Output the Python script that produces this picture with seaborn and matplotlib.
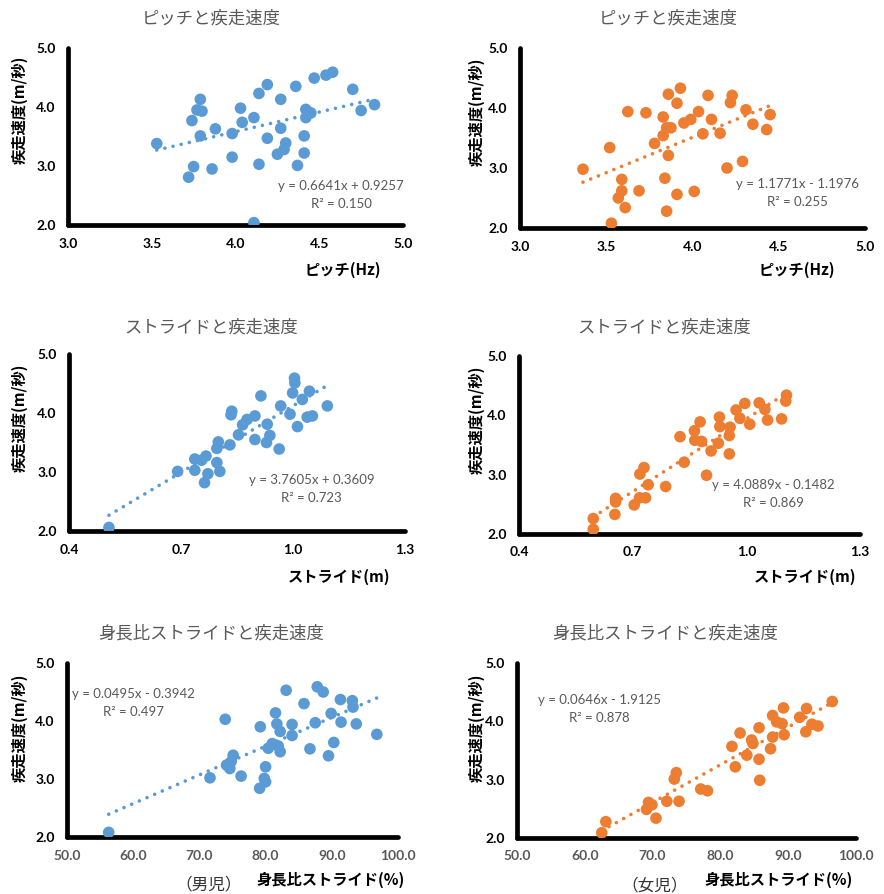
import numpy as np
import pandas as pd
import matplotlib
matplotlib.use("Agg")
import matplotlib.pyplot as plt
import seaborn as sns

sns.set_theme(style="white")
plt.rcParams['font.family'] = ['Lato', 'Noto Sans CJK JP', 'DejaVu Sans']

BLUE = '#5B9BD5'
ORANGE = '#ED7D31'
GRAY = '#595959'
CJK = ['Noto Sans CJK JP', 'DejaVu Sans']

# ---------------- data ----------------
# Boys: pitch (Hz) vs speed (m/s)
boy_pitch = [3.53, 3.72, 3.75, 3.86, 3.74, 3.79, 3.77, 3.80, 3.79, 3.88, 3.98, 3.98, 4.03,
             4.04, 4.11, 4.11, 4.14, 4.19, 4.14, 4.19, 4.27, 4.27, 4.30, 4.29, 4.25, 4.36,
             4.37, 4.41, 4.41, 4.42, 4.45, 4.42, 4.47, 4.54, 4.58, 4.70, 4.75, 4.83]
boy_pitch_speed = [3.38, 2.81, 2.99, 2.95, 3.77, 4.13, 3.95, 3.93, 3.51, 3.63, 3.55, 3.15, 3.98,
                   3.74, 3.82, 2.04, 4.23, 4.38, 3.03, 3.47, 4.13, 3.64, 3.39, 3.28, 3.20, 4.35,
                   3.01, 3.22, 3.51, 3.96, 3.90, 3.82, 4.49, 4.54, 4.59, 4.30, 3.94, 4.04]

# Girls: pitch (Hz) vs speed (m/s)
girl_pitch = [3.365, 3.52, 3.53, 3.59, 3.59, 3.57, 3.61, 3.625, 3.69, 3.73, 3.78, 3.83, 3.83,
              3.85, 3.875, 3.86, 3.86, 3.84, 3.85, 3.91, 3.93, 3.91, 3.95, 3.99, 4.01, 4.035,
              4.06, 4.09, 4.11, 4.16, 4.20, 4.22, 4.23, 4.29, 4.31, 4.35, 4.43, 4.45]
girl_pitch_speed = [2.98, 3.34, 2.08, 2.81, 2.62, 2.50, 2.34, 3.94, 2.62, 3.92, 3.41, 3.85, 3.54,
                    3.67, 3.67, 4.23, 3.21, 2.83, 2.28, 4.08, 4.33, 2.56, 3.75, 3.81, 2.61, 3.94,
                    3.57, 4.21, 3.81, 3.58, 3.00, 4.09, 4.21, 3.11, 3.97, 3.73, 3.64, 3.89]

# Boys: stride (m) vs speed
boy_stride = [0.507, 0.691, 0.737, 0.737, 0.755, 0.767, 0.763, 0.772, 0.796, 0.804, 0.796, 0.80,
              0.831, 0.834, 0.836, 0.854, 0.865, 0.877, 0.898, 0.898, 0.914, 0.929, 0.931, 0.938,
              0.963, 0.967, 0.992, 1.004, 1.005, 0.999, 1.012, 1.025, 1.044, 1.038, 1.052, 1.092]
boy_stride_speed = [2.06, 3.01, 3.03, 3.22, 3.20, 3.27, 2.82, 2.97, 3.16, 3.01, 3.40, 3.51,
                    3.46, 3.97, 4.03, 3.63, 3.80, 3.89, 3.95, 3.55, 4.29, 3.50, 3.81, 3.62,
                    3.39, 4.12, 3.98, 4.59, 4.51, 4.34, 3.77, 4.23, 4.37, 3.93, 3.95, 4.12]

# Girls: stride (m) vs speed
girl_stride = [0.596, 0.596, 0.653, 0.655, 0.655, 0.704, 0.718, 0.734, 0.719, 0.730, 0.741, 0.787,
               0.836, 0.825, 0.863, 0.864, 0.878, 0.882, 0.895, 0.907, 0.926, 0.929, 0.930, 0.955,
               0.957, 0.955, 0.973, 0.983, 0.996, 1.009, 1.034, 1.049, 1.056, 1.093, 1.104, 1.106]
girl_stride_speed = [2.08, 2.26, 2.33, 2.54, 2.60, 2.49, 2.61, 2.61, 3.01, 3.12, 2.83, 2.80,
                     3.21, 3.64, 3.74, 3.58, 3.89, 3.56, 2.99, 3.40, 3.53, 3.97, 3.81, 3.66,
                     3.80, 3.35, 4.09, 3.95, 4.20, 3.85, 4.21, 4.10, 3.92, 3.94, 4.24, 4.34]

# Boys: stride / height (%) vs speed
boy_ratio = [56.3, 71.6, 73.9, 74.1, 74.6, 74.8, 75.1, 76.3, 79.1, 79.8, 80.0, 80.0, 79.2,
             80.4, 81.0, 81.5, 81.7, 81.9, 82.2, 82.2, 83.1, 84.0, 84.0, 85.8, 86.7, 87.5,
             87.8, 88.7, 89.5, 89.9, 90.3, 91.4, 91.3, 93.1, 93.2, 93.7, 96.8]
boy_ratio_speed = [2.08, 3.02, 4.03, 3.24, 3.18, 3.30, 3.41, 3.05, 2.84, 3.01, 2.95, 3.21, 3.90,
                   3.53, 3.61, 4.14, 3.95, 3.57, 3.47, 3.82, 4.53, 3.94, 3.75, 4.30, 3.52, 3.97,
                   4.59, 4.50, 3.40, 4.13, 3.63, 3.98, 4.37, 4.35, 4.24, 3.95, 3.77]

# Girls: stride / height (%) vs speed
girl_ratio = [62.5, 63.1, 69.1, 69.4, 69.9, 70.5, 72.1, 73.9, 73.2, 73.5, 77.1, 78.1, 81.7,
              82.2, 82.9, 83.9, 84.6, 84.8, 85.7, 85.7, 85.8, 87.4, 87.7, 87.7, 88.3, 89.1,
              89.3, 89.4, 91.7, 92.7, 92.6, 93.5, 94.4, 96.5]
girl_ratio_speed = [2.09, 2.28, 2.49, 2.61, 2.57, 2.34, 2.63, 2.63, 3.01, 3.12, 2.84, 2.81, 3.57,
                    3.22, 3.80, 3.42, 3.68, 3.62, 3.89, 3.35, 2.99, 3.53, 3.73, 4.10, 3.99, 3.96,
                    4.23, 3.77, 4.07, 4.22, 3.82, 3.95, 3.92, 4.34]

# trendline coefficients (slope, intercept) and R^2 as printed
slopes = [0.6641, 1.1771, 3.7605, 4.0889, 0.0495, 0.0646]
intercepts = [0.9257, -1.1976, 0.3609, -0.1482, -0.3942, -1.9125]
r2_values = [0.150, 0.255, 0.723, 0.869, 0.497, 0.878]

titles = ['ピッチと疾走速度', 'ピッチと疾走速度', 'ストライドと疾走速度', 'ストライドと疾走速度',
          '身長比ストライドと疾走速度', '身長比ストライドと疾走速度']
xlabels = ['ピッチ(Hz)', 'ピッチ(Hz)', 'ストライド(m)', 'ストライド(m)',
           '身長比ストライド(%)', '身長比ストライド(%)']
ylabel = '疾走速度(m/秒)'
xtick_sets = [[3.0, 3.5, 4.0, 4.5, 5.0], [3.0, 3.5, 4.0, 4.5, 5.0],
              [0.4, 0.7, 1.0, 1.3], [0.4, 0.7, 1.0, 1.3],
              [50.0, 60.0, 70.0, 80.0, 90.0, 100.0], [50.0, 60.0, 70.0, 80.0, 90.0, 100.0]]
yticks = [2.0, 3.0, 4.0, 5.0]
group_labels = ['（男児）', '（女児）']

xs = [boy_pitch, girl_pitch, boy_stride, girl_stride, boy_ratio, girl_ratio]
ys = [boy_pitch_speed, girl_pitch_speed, boy_stride_speed, girl_stride_speed,
      boy_ratio_speed, girl_ratio_speed]
colors = [BLUE, ORANGE, BLUE, ORANGE, BLUE, ORANGE]

# ---------------- layout (pixels) ----------------
W, H = 884, 894
# left, right, top, bottom of each plotting area
boxes = [(68, 403, 48, 225), (520, 865, 48, 228),
         (69, 405, 354, 531), (519, 860, 356, 534),
         (67, 398, 663, 837), (517, 856, 663, 838)]
title_pos = [(211, 18), (668, 18), (211, 327), (664, 327), (211, 633), (665, 633)]
xlabel_pos = [(343, 270), (797, 270), (339, 577), (805, 577), (331, 880), (779, 880)]
ylabel_pos = [(20, 110), (477, 112), (20, 418), (477, 420), (20, 728), (477, 728)]
eq_pos = [(4.63, 2.66, 2.35), (4.61, 2.74, 2.43), (1.05, 2.86, 2.56),
          (1.071, 2.83, 2.53), (60.1, 4.47, 4.15), (62.1, 4.36, 4.05)]
group_pos = [(209, 885), (655, 886)]

fig = plt.figure(figsize=(W / 100, H / 100), dpi=100)
fig.patch.set_facecolor('white')

for i in range(6):
    l, r, t, b = boxes[i]
    ax = fig.add_axes([l / W, 1 - b / H, (r - l) / W, (b - t) / H])
    ax.set_facecolor('white')
    x = np.array(xs[i]); y = np.array(ys[i])
    df = pd.DataFrame({'x': x, 'y': y})
    sns.scatterplot(data=df, x='x', y='y', ax=ax, color=colors[i], s=70,
                    edgecolor='none', linewidth=0, zorder=3)
    # trendline from printed equation
    tx = np.array([x.min(), x.max()])
    ty = slopes[i] * tx + intercepts[i]
    line_df = pd.DataFrame({'x': tx, 'y': ty})
    sns.lineplot(data=line_df, x='x', y='y', ax=ax, color=colors[i], lw=2.6,
                 linestyle=(0, (0.01, 2.3)), dash_capstyle='round', zorder=4)
    # axes styling
    xt = xtick_sets[i]
    ax.set_xlim(xt[0], xt[-1])
    ax.set_ylim(2.0, 5.0)
    ax.set_xticks(xt)
    ax.set_yticks(yticks)
    ax.set_xticklabels([f'{v:.1f}' for v in xt])
    ax.set_yticklabels([f'{v:.1f}' for v in yticks])
    for s in ['top', 'right']:
        ax.spines[s].set_visible(False)
    for s in ['left', 'bottom']:
        ax.spines[s].set_visible(True)
        ax.spines[s].set_color('black')
        ax.spines[s].set_linewidth(3.4)
        ax.spines[s].set_capstyle('round')
    ax.tick_params(axis='both', which='major', direction='in', length=4.5, width=3,
                   color='black', labelsize=10)
    ax.tick_params(axis='y', pad=9)
    ax.tick_params(axis='x', pad=9)
    xcol = GRAY if i >= 4 else 'black'
    for lab in ax.get_xticklabels():
        lab.set_fontweight('bold'); lab.set_color(xcol)
    for lab in ax.get_yticklabels():
        lab.set_fontweight('bold'); lab.set_color('black')
    ax.set_xlabel(''); ax.set_ylabel('')
    ax.grid(False)
    for sp in ax.spines.values():
        sp.set_clip_on(False)
    # equation text
    ex, ey1, ey2 = eq_pos[i]
    sign = '+' if intercepts[i] >= 0 else '-'
    ax.text(ex, ey1, f'y = {slopes[i]:.4f}x {sign} {abs(intercepts[i]):.4f}',
            ha='center', va='center', fontsize=9.5, color=GRAY)
    ax.text(ex, ey2, f'R\u00b2 = {r2_values[i]:.3f}', ha='center', va='center',
            fontsize=9.5, color=GRAY)

    # titles and labels
    px, py = title_pos[i]
    fig.text(px / W, 1 - py / H, titles[i], ha='center', va='center',
             fontsize=12.5, color=GRAY, family=CJK)
    px, py = xlabel_pos[i]
    fig.text(px / W, 1 - py / H, xlabels[i], ha='center', va='center',
             fontsize=11, fontweight='bold', color='black', family=CJK)
    px, py = ylabel_pos[i]
    fig.text(px / W, 1 - py / H, ylabel, ha='center', va='center', rotation=90,
             fontsize=11, fontweight='bold', color='black', family=CJK)

for j in range(2):
    px, py = group_pos[j]
    fig.text(px / W, 1 - py / H, group_labels[j], ha='center', va='center',
             fontsize=12, color='#333333', family=CJK)

fig.savefig('out.png', dpi=100, facecolor='white')
